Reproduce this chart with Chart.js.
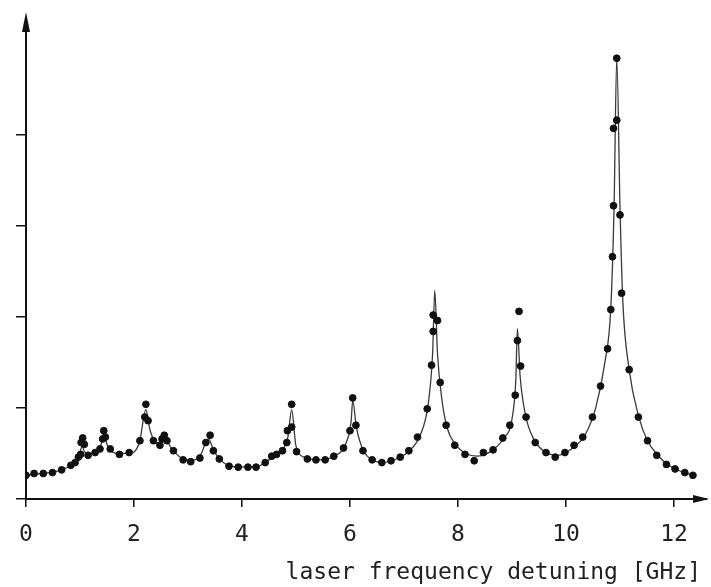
<!DOCTYPE html>
<html>
<head>
<meta charset="utf-8">
<script src="https://cdn.jsdelivr.net/npm/chart.js@4/dist/chart.umd.min.js"></script>
<style>
    body { margin: 0; background: #fff; }
    canvas { display: block; }
</style>
</head>
<body>
<canvas id="spectrum-graph" width="711" height="587"></canvas>
<script>
const spectrum = document.getElementById('spectrum-graph').getContext('2d');

// measured points (frequency in GHz, signal in arbitrary units)
let pointX = [0.00, 0.15, 0.32, 0.49, 0.66, 0.83, 0.91, 0.97, 1.01, 1.02, 1.05, 1.08, 1.15, 1.28, 1.37,
    1.42, 1.44, 1.47, 1.56, 1.73, 1.91, 2.11, 2.20, 2.22, 2.26, 2.36, 2.48, 2.52, 2.56, 2.61,
    2.73, 2.91, 3.05, 3.22, 3.33, 3.41, 3.47, 3.58, 3.76, 3.93, 4.11, 4.26, 4.43, 4.55, 4.64,
    4.75, 4.83, 4.84, 4.92, 4.92, 5.01, 5.21, 5.37, 5.54, 5.70, 5.88, 6.00, 6.05, 6.11, 6.24,
    6.41, 6.59, 6.76, 6.93, 7.09, 7.25, 7.43, 7.51, 7.54, 7.54, 7.62, 7.67, 7.78, 7.94, 8.13,
    8.30, 8.47, 8.65, 8.83, 8.96, 9.06, 9.10, 9.13, 9.16, 9.26, 9.43, 9.63, 9.80, 9.98, 10.15,
    10.31, 10.49, 10.64, 10.77, 10.83, 10.86, 10.88, 10.88, 10.94, 10.94, 11.00, 11.03, 11.17, 11.34, 11.51,
    11.68, 11.86, 12.02, 12.20, 12.35];
let pointY = [0.26, 0.28, 0.28, 0.29, 0.32, 0.37, 0.40, 0.46, 0.49, 0.62, 0.67, 0.60, 0.48, 0.51, 0.55,
    0.66, 0.75, 0.68, 0.55, 0.49, 0.51, 0.64, 0.90, 1.04, 0.86, 0.64, 0.59, 0.66, 0.70, 0.64,
    0.53, 0.43, 0.41, 0.45, 0.62, 0.70, 0.53, 0.44, 0.36, 0.35, 0.35, 0.35, 0.40, 0.47, 0.49,
    0.53, 0.62, 0.75, 0.79, 1.04, 0.52, 0.44, 0.43, 0.43, 0.47, 0.56, 0.75, 1.11, 0.81, 0.53,
    0.43, 0.40, 0.42, 0.46, 0.53, 0.68, 0.99, 1.47, 1.84, 2.02, 1.96, 1.28, 0.81, 0.59, 0.49,
    0.42, 0.51, 0.54, 0.67, 0.81, 1.14, 1.74, 2.06, 1.46, 0.90, 0.62, 0.51, 0.46, 0.51, 0.59,
    0.68, 0.90, 1.24, 1.65, 2.08, 2.66, 3.22, 4.07, 4.16, 4.84, 3.12, 2.26, 1.42, 0.90, 0.64,
    0.48, 0.38, 0.33, 0.29, 0.26];

// fitted curve
let curveX = [0.00, 0.30, 0.60, 0.85, 0.98, 1.04, 1.08, 1.20, 1.37, 1.44, 1.52, 1.70, 1.90, 2.10, 2.22,
    2.30, 2.45, 2.56, 2.70, 2.90, 3.05, 3.22, 3.38, 3.47, 3.60, 3.80, 4.10, 4.30, 4.50, 4.70,
    4.85, 4.92, 5.00, 5.20, 5.45, 5.70, 5.90, 6.02, 6.05, 6.12, 6.25, 6.45, 6.60, 6.90, 7.10,
    7.30, 7.45, 7.53, 7.57, 7.62, 7.70, 7.80, 7.95, 8.15, 8.35, 8.60, 8.85, 9.00, 9.07, 9.10,
    9.15, 9.25, 9.40, 9.60, 9.85, 10.10, 10.35, 10.55, 10.72, 10.83, 10.89, 10.94, 11.00, 11.05, 11.17,
    11.35, 11.50, 11.70, 11.90, 12.10, 12.35];
let curveY = [0.26, 0.28, 0.31, 0.38, 0.47, 0.58, 0.52, 0.50, 0.56, 0.70, 0.57, 0.50, 0.50, 0.62, 0.98,
    0.75, 0.60, 0.67, 0.55, 0.44, 0.42, 0.47, 0.66, 0.54, 0.43, 0.36, 0.35, 0.36, 0.43, 0.51,
    0.68, 0.98, 0.58, 0.45, 0.43, 0.47, 0.58, 0.85, 1.08, 0.78, 0.53, 0.42, 0.40, 0.45, 0.53,
    0.70, 1.05, 1.60, 2.29, 1.60, 1.10, 0.78, 0.60, 0.50, 0.47, 0.52, 0.67, 0.88, 1.30, 1.87,
    1.35, 0.92, 0.66, 0.52, 0.48, 0.55, 0.70, 1.00, 1.50, 2.10, 3.20, 4.84, 3.20, 2.20, 1.42,
    0.90, 0.65, 0.48, 0.37, 0.31, 0.26];

// tick positions
let xTicks = [0, 2, 4, 6, 8, 10, 12];
let yTicks = [0, 1, 2, 3, 4];

const axisFont = { family: 'DejaVu Sans Mono', size: 23 };

// draws the arrow heads at the end of both axes
const axisArrows = {
    id: 'axisArrows',
    afterDraw(chart) {
        const { ctx, chartArea } = chart;
        ctx.save();
        ctx.fillStyle = '#111';
        ctx.strokeStyle = '#111';
        ctx.lineWidth = 2;
        // x axis
        ctx.beginPath();
        ctx.moveTo(chartArea.right, chartArea.bottom);
        ctx.lineTo(chartArea.right + 6, chartArea.bottom);
        ctx.stroke();
        ctx.beginPath();
        ctx.moveTo(chartArea.right + 8, chartArea.bottom);
        ctx.lineTo(chartArea.right - 8, chartArea.bottom - 4);
        ctx.lineTo(chartArea.right - 8, chartArea.bottom + 4);
        ctx.closePath();
        ctx.fill();
        // y axis
        ctx.beginPath();
        ctx.moveTo(chartArea.left, chartArea.top - 8);
        ctx.lineTo(chartArea.left - 4, chartArea.top + 12);
        ctx.lineTo(chartArea.left + 4, chartArea.top + 12);
        ctx.closePath();
        ctx.fill();
        ctx.restore();
    }
};

let spectrumGraphData = {
    type: 'scatter',
    data: {
        datasets: [{
            label: 'measured',
            data: pointX.map((x, i) => ({ x: x, y: pointY[i] })),
            backgroundColor: '#111',
            borderColor: '#111',
            pointRadius: 3.4,
            pointHoverRadius: 3.4,
            showLine: false,
            order: 1
        }, {
            label: 'fit',
            data: curveX.map((x, i) => ({ x: x, y: curveY[i] })),
            borderColor: '#3a3a3a',
            borderWidth: 1.3,
            pointRadius: 0,
            showLine: true,
            cubicInterpolationMode: 'monotone',
            order: 2
        }]
    },
    options: {
        responsive: false,
        animation: false,
        devicePixelRatio: 1,
        layout: {
            padding: { top: 20, right: 10, bottom: 0, left: 0 }
        },
        plugins: {
            legend: { display: false },
            tooltip: { enabled: false }
        },
        scales: {
            x: {
                type: 'linear',
                min: 0,
                max: 12.5,
                afterBuildTicks: (scale) => { scale.ticks = xTicks.map(v => ({ value: v })); },
                afterFit: (scale) => { scale.height = 88; },
                border: { display: true, color: '#111', width: 2 },
                grid: { drawOnChartArea: false, drawTicks: true, tickLength: 8, color: '#111', lineWidth: 1.5 },
                ticks: { color: '#222', font: axisFont, padding: 14, maxRotation: 0 },
                title: {
                    display: true,
                    text: 'laser frequency detuning [GHz]',
                    align: 'end',
                    color: '#222',
                    font: axisFont,
                    padding: { top: 0, bottom: 0 }
                }
            },
            y: {
                type: 'linear',
                min: 0,
                max: 5.26,
                afterBuildTicks: (scale) => { scale.ticks = yTicks.map(v => ({ value: v })); },
                afterFit: (scale) => { scale.width = 26; },
                border: { display: true, color: '#111', width: 2 },
                grid: { drawOnChartArea: false, drawTicks: true, tickLength: 10, color: '#111', lineWidth: 1.5 },
                ticks: { callback: () => '', padding: 0 }
            }
        }
    },
    plugins: [axisArrows]
};

const spectrumGraph = new Chart(spectrum, spectrumGraphData);
</script>
</body>
</html>
